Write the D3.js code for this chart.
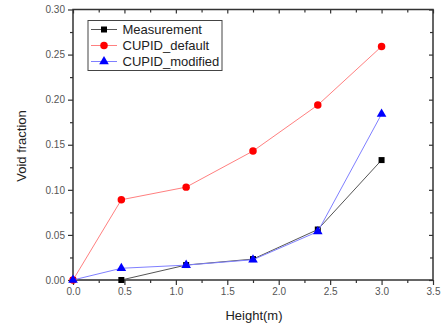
<!DOCTYPE html>
<html><head><meta charset="utf-8">
<script src="https://cdn.jsdelivr.net/npm/d3@7"></script>
<style>body{margin:0;background:#fff}svg{display:block}</style>
</head><body><svg id="c" width="445" height="325"></svg>
<script>
const heights = [0, 0.47, 1.1, 1.75, 2.38, 3.0];
const measurement = [0, 0, 0.0166, 0.0232, 0.056, 0.133];
const cupidDefault = [0, 0.089, 0.103, 0.143, 0.194, 0.259];
const cupidModified = [0, 0.013, 0.0165, 0.0225, 0.0537, 0.184];
const seriesNames = ["Measurement", "CUPID_default", "CUPID_modified"];
const xTicks = [0, 0.5, 1.0, 1.5, 2.0, 2.5, 3.0, 3.5];
const yTicks = [0, 0.05, 0.10, 0.15, 0.20, 0.25, 0.30];

const svg = d3.select("#c");
const L = 73, R = 433, T = 9.5, B = 280;
const x = d3.scaleLinear().domain([0, 3.5]).range([L, R]);
const y = d3.scaleLinear().domain([0, 0.30]).range([B, T]);
const axisColor = "#333";
const font = "Arial, 'Liberation Sans', sans-serif";

const xMinor = d3.range(0.25, 3.5, 0.5);
const yMinor = d3.range(0.025, 0.3, 0.05);

function drawAxis(g, axis) {
  g.call(axis);
  g.select(".domain").remove();
  g.selectAll("line").attr("stroke", axisColor).attr("stroke-width", 1.2);
  g.selectAll("text").attr("fill", "#555").attr("font-family", font).attr("font-size", 10);
}
drawAxis(svg.append("g").attr("transform", `translate(0,${B})`),
  d3.axisBottom(x).tickValues(xTicks).tickSize(5).tickPadding(3).tickFormat(d3.format(".1f")));
drawAxis(svg.append("g").attr("transform", `translate(0,${B})`),
  d3.axisBottom(x).tickValues(xMinor).tickSize(3).tickFormat(""));
drawAxis(svg.append("g").attr("transform", `translate(0,${T})`),
  d3.axisBottom(x).tickValues(xTicks).tickSize(4).tickFormat(""));
drawAxis(svg.append("g").attr("transform", `translate(0,${T})`),
  d3.axisBottom(x).tickValues(xMinor).tickSize(3).tickFormat(""));
drawAxis(svg.append("g").attr("transform", `translate(${L},0)`),
  d3.axisLeft(y).tickValues(yTicks).tickSize(5).tickPadding(3).tickFormat(d3.format(".2f")));
drawAxis(svg.append("g").attr("transform", `translate(${L},0)`),
  d3.axisLeft(y).tickValues(yMinor).tickSize(3).tickFormat(""));
drawAxis(svg.append("g").attr("transform", `translate(${R},0)`),
  d3.axisLeft(y).tickValues(yTicks).tickSize(4).tickFormat(""));
drawAxis(svg.append("g").attr("transform", `translate(${R},0)`),
  d3.axisLeft(y).tickValues(yMinor).tickSize(3).tickFormat(""));

svg.append("rect").attr("x", L).attr("y", T).attr("width", R - L).attr("height", B - T)
  .attr("fill", "none").attr("stroke", axisColor).attr("stroke-width", 1.5);

const series = [
  {name: seriesNames[0], vals: measurement, line: "#555", marker: "#000", sym: d3.symbolSquare, size: 36},
  {name: seriesNames[1], vals: cupidDefault, line: "#ff8080", marker: "#ff0000", sym: d3.symbolCircle, size: 44},
  {name: seriesNames[2], vals: cupidModified, line: "#7f7fff", marker: "#0000ff", sym: d3.symbolTriangle, size: 40}
];
const line = d3.line().x(d => x(d[0])).y(d => y(d[1]));
series.forEach(s => {
  const pts = heights.map((h, i) => [h, s.vals[i]]);
  svg.append("path").attr("d", line(pts)).attr("fill", "none").attr("stroke", s.line).attr("stroke-width", 1);
  svg.append("g").selectAll("path").data(pts).join("path")
    .attr("transform", d => `translate(${x(d[0])},${y(d[1])})`)
    .attr("d", d3.symbol().type(s.sym).size(s.size)).attr("fill", s.marker);
});

const lg = svg.append("g");
lg.append("rect").attr("x", 88).attr("y", 20.5).attr("width", 134).attr("height", 50)
  .attr("fill", "#fff").attr("stroke", "#444").attr("stroke-width", 1);
series.forEach((s, i) => {
  const yy = 29.5 + i * 16;
  lg.append("line").attr("x1", 91).attr("x2", 117).attr("y1", yy).attr("y2", yy).attr("stroke", s.line).attr("stroke-width", 1);
  lg.append("path").attr("transform", `translate(104,${yy})`).attr("d", d3.symbol().type(s.sym).size(s.size)).attr("fill", s.marker);
  lg.append("text").attr("x", 122.5).attr("y", yy + 4.5).text(s.name)
    .attr("font-family", font).attr("font-size", 13).attr("fill", "#222");
});

svg.append("text").attr("x", 254).attr("y", 320).attr("text-anchor", "middle")
  .attr("font-family", font).attr("font-size", 13).attr("fill", "#222").text("Height(m)");
svg.append("text").attr("transform", "translate(25.5,146) rotate(-90)").attr("text-anchor", "middle")
  .attr("font-family", font).attr("font-size", 13).attr("fill", "#222").text("Void fraction");
</script></body></html>
